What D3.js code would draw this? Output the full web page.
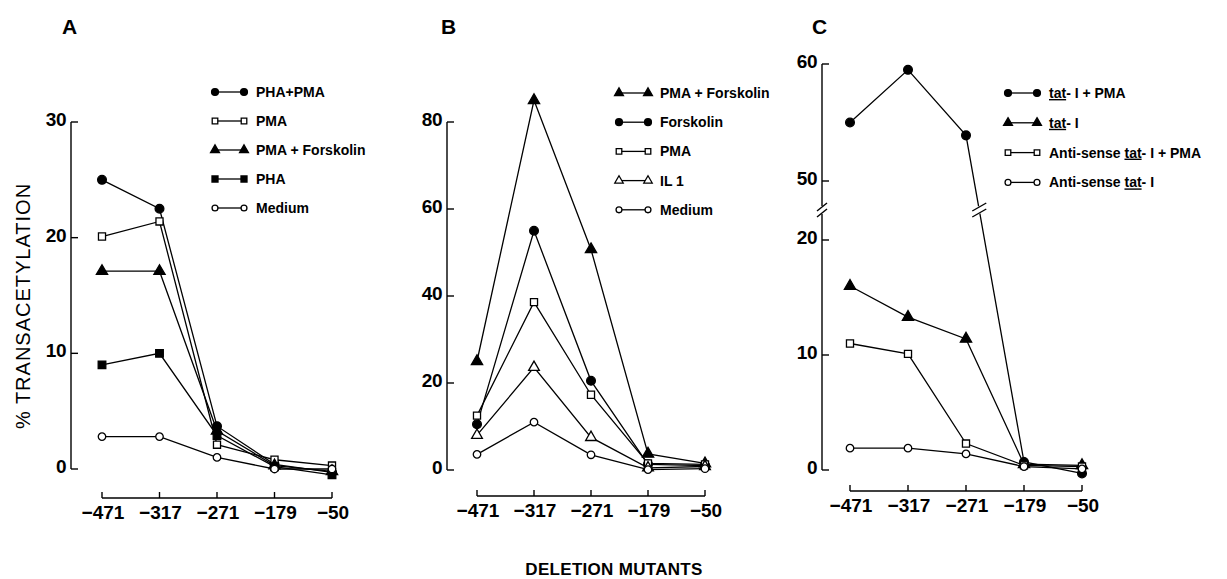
<!DOCTYPE html>
<html><head><meta charset="utf-8">
<script src="https://cdn.jsdelivr.net/npm/d3@7/dist/d3.min.js"></script>
<style>
body{margin:0;background:#fff;}
svg{display:block;font-family:"Liberation Sans",Arial,sans-serif;}
</style></head>
<body><svg id="c" width="1227" height="579"></svg>
<script>
// ---- data ----
const categories = ["−471","−317","−271","−179","−50"];

const seriesA = ["PHA+PMA","PMA","PMA + Forskolin","PHA","Medium"];
const phaPmaA   = [25.0, 22.5, 3.7, 0.4, -0.3];
const pmaA      = [20.1, 21.4, 2.1, 0.8, 0.3];
const pmaForskA = [17.1, 17.1, 3.3, 0.3, -0.2];
const phaA      = [9.0, 10.0, 2.9, 0.2, -0.5];
const mediumA   = [2.8, 2.8, 1.0, 0.0, 0.0];
const ticksA = [0, 10, 20, 30];

const seriesB = ["PMA + Forskolin","Forskolin","PMA","IL 1","Medium"];
const pmaForskB = [25.0, 85.0, 50.7, 3.7, 1.5];
const forskB    = [10.5, 55.0, 20.5, 1.3, 1.0];
const pmaB      = [12.5, 38.6, 17.3, 1.5, 1.3];
const il1B      = [8.0, 23.6, 7.5, 0.5, 0.8];
const mediumB   = [3.6, 11.0, 3.5, 0.1, 0.3];
const ticksB = [0, 20, 40, 60, 80];

const seriesC = ["tat- I + PMA","tat- I","Anti-sense tat- I + PMA","Anti-sense tat- I"];
const tatPmaC  = [55.0, 59.5, 53.9, 0.7, -0.3];
const tatC     = [16.0, 13.3, 11.4, 0.5, 0.4];
const antiPmaC = [11.0, 10.1, 2.3, 0.4, 0.3];
const antiC    = [1.9, 1.9, 1.4, 0.3, 0.1];
const ticksCLow = [0, 10, 20];
const ticksCHigh = [50, 60];

// ---- drawing ----
const svg = d3.select("#c");
const FONT_TICK = 19;

function marker(g, type, x, y, k = 1) {
  const s = g.append("path").attr("transform", `translate(${x},${y})`)
    .attr("stroke", "#000").attr("stroke-width", 1.3);
  let sym, filled;
  switch (type) {
    case "fcircle": sym = d3.symbol(d3.symbolCircle, 60 * k); filled = true; break;
    case "ocircle": sym = d3.symbol(d3.symbolCircle, 44 * k); filled = false; break;
    case "fsquare": sym = d3.symbol(d3.symbolSquare, 58 * k); filled = true; break;
    case "osquare": sym = d3.symbol(d3.symbolSquare, 50 * k); filled = false; break;
    case "ftri": sym = d3.symbol(d3.symbolTriangle, 55 * k); filled = true; break;
    case "otri": sym = d3.symbol(d3.symbolTriangle, 50 * k); filled = false; break;
  }
  s.attr("d", sym()).attr("fill", filled ? "#000" : "#fff");
}

function xAxis(g, x, y) {
  const [x0, x1] = x.range();
  g.append("line").attr("x1", x0).attr("x2", x1).attr("y1", y).attr("y2", y)
    .attr("stroke", "#000").attr("stroke-width", 1.4);
  categories.forEach(c => {
    g.append("line").attr("x1", x(c)).attr("x2", x(c)).attr("y1", y).attr("y2", y - 6)
      .attr("stroke", "#000").attr("stroke-width", 1.4);
    g.append("text").attr("x", x(c) + 1).attr("y", y + 21).attr("text-anchor", "middle")
      .attr("font-size", FONT_TICK).attr("font-weight", "bold").text(c);
  });
}

function yTicks(g, ax, y, ticks) {
  ticks.forEach(t => {
    g.append("line").attr("x1", ax).attr("x2", ax + 7).attr("y1", y(t)).attr("y2", y(t))
      .attr("stroke", "#000").attr("stroke-width", 1.4);
    g.append("text").attr("x", ax - 5).attr("y", y(t) + 4).attr("text-anchor", "end")
      .attr("font-size", FONT_TICK).attr("font-weight", "bold").attr("letter-spacing", -0.5).text(t);
  });
}

function drawSeries(g, x, yf, vals) {
  const pts = vals.map((v, i) => [x(categories[i]), yf(v)]);
  g.append("path").attr("d", d3.line()(pts)).attr("fill", "none")
    .attr("stroke", "#000").attr("stroke-width", 1.3);
  return pts;
}
function drawMarkers(g, x, yf, vals, type) {
  vals.forEach((v, i) => marker(g, type, x(categories[i]), yf(v)));
}

function legend(g, x0, y0, dy, names, types, underline) {
  names.forEach((n, i) => {
    const y = y0 + i * dy;
    g.append("line").attr("x1", x0).attr("x2", x0 + 29).attr("y1", y).attr("y2", y)
      .attr("stroke", "#000").attr("stroke-width", 1.3);
    marker(g, types[i], x0, y, 0.62);
    marker(g, types[i], x0 + 29, y, 0.62);
    const t = g.append("text").attr("x", x0 + 41).attr("y", y + 5)
      .attr("font-size", 14).attr("font-weight", "bold");
    if (underline) {
      const parts = n.split("tat");
      parts.forEach((p, k) => {
        if (p) t.append("tspan").text(p);
        if (k < parts.length - 1) t.append("tspan").attr("text-decoration", "underline").text("tat");
      });
    } else t.text(n);
  });
}

function panelLabel(x, y, s) {
  svg.append("text").attr("x", x).attr("y", y).attr("font-size", 21)
    .attr("font-weight", "bold").text(s);
}

// Panel A
{
  const g = svg.append("g");
  const x = d3.scalePoint(categories, [102, 332]);
  const y = d3.scaleLinear([0, 30], [469, 122]);
  g.append("line").attr("x1", 71).attr("x2", 71).attr("y1", y(0)).attr("y2", y(30))
    .attr("stroke", "#000").attr("stroke-width", 1.4);
  yTicks(g, 71, y, ticksA);
  xAxis(g, x, 498);
  const vals = [phaPmaA, pmaA, pmaForskA, phaA, mediumA];
  const types = ["fcircle", "osquare", "ftri", "fsquare", "ocircle"];
  vals.forEach(v => drawSeries(g, x, y, v));
  vals.forEach((v, i) => drawMarkers(g, x, y, v, types[i]));
  legend(g, 215, 92, 29, seriesA, types, false);
  panelLabel(62, 34, "A");
}

// Panel B
{
  const g = svg.append("g");
  const x = d3.scalePoint(categories, [477, 705]);
  const y = d3.scaleLinear([0, 80], [470, 122]);
  g.append("line").attr("x1", 447).attr("x2", 447).attr("y1", y(0)).attr("y2", y(80))
    .attr("stroke", "#000").attr("stroke-width", 1.4);
  yTicks(g, 447, y, ticksB);
  xAxis(g, x, 496);
  const vals = [pmaForskB, forskB, pmaB, il1B, mediumB];
  const types = ["ftri", "fcircle", "osquare", "otri", "ocircle"];
  vals.forEach(v => drawSeries(g, x, y, v));
  vals.forEach((v, i) => drawMarkers(g, x, y, v, types[i]));
  legend(g, 619, 93, 29.2, seriesB, types, false);
  panelLabel(441, 34, "B");
}

// Panel C (broken axis)
{
  const g = svg.append("g");
  const x = d3.scalePoint(categories, [850, 1082]);
  const yLow = d3.scaleLinear([0, 20], [470, 240]);
  const yHigh = d3.scaleLinear([50, 60], [181, 64]);
  const yf = v => v > 35 ? yHigh(v) : yLow(v);
  const ax = 822, breakY = 210;
  g.append("line").attr("x1", ax).attr("x2", ax).attr("y1", yLow(0)).attr("y2", breakY + 4)
    .attr("stroke", "#000").attr("stroke-width", 1.4);
  g.append("line").attr("x1", ax).attr("x2", ax).attr("y1", breakY - 4).attr("y2", yHigh(60))
    .attr("stroke", "#000").attr("stroke-width", 1.4);
  [-3, 3].forEach(o => g.append("line").attr("x1", ax - 5).attr("x2", ax + 5)
    .attr("y1", breakY + o + 4).attr("y2", breakY + o - 4).attr("stroke", "#000").attr("stroke-width", 1.4));
  yTicks(g, ax, yLow, ticksCLow);
  yTicks(g, ax, yHigh, ticksCHigh);
  xAxis(g, x, 491);
  const vals = [tatPmaC, tatC, antiPmaC, antiC];
  const types = ["fcircle", "ftri", "osquare", "ocircle"];
  const ptsList = vals.map(v => drawSeries(g, x, yf, v));
  // break marks on the tat-I + PMA line between -271 and -179
  const [p, q] = [ptsList[0][2], ptsList[0][3]];
  const t = (breakY - p[1]) / (q[1] - p[1]);
  const bx = p[0] + t * (q[0] - p[0]);
  g.append("line").attr("x1", bx - 2).attr("x2", bx + 2).attr("y1", breakY - 3).attr("y2", breakY + 3)
    .attr("stroke", "#fff").attr("stroke-width", 4);
  [-3, 3].forEach(o => g.append("line").attr("x1", bx - 7).attr("x2", bx + 7)
    .attr("y1", breakY + o + 4).attr("y2", breakY + o - 4).attr("stroke", "#000").attr("stroke-width", 1.4));
  vals.forEach((v, i) => drawMarkers(g, x, yf, v, types[i]));
  legend(g, 1008, 93, 29.8, seriesC, types, true);
  panelLabel(812, 34, "C");
}

// Axis titles
svg.append("text").attr("transform", "translate(30,306) rotate(-90)").attr("text-anchor", "middle")
  .attr("font-size", 20).attr("letter-spacing", 1).text("% TRANSACETYLATION");
svg.append("text").attr("x", 614).attr("y", 575).attr("text-anchor", "middle")
  .attr("font-size", 17).attr("font-weight", "bold").attr("letter-spacing", 0.3).text("DELETION MUTANTS");
</script></body></html>
